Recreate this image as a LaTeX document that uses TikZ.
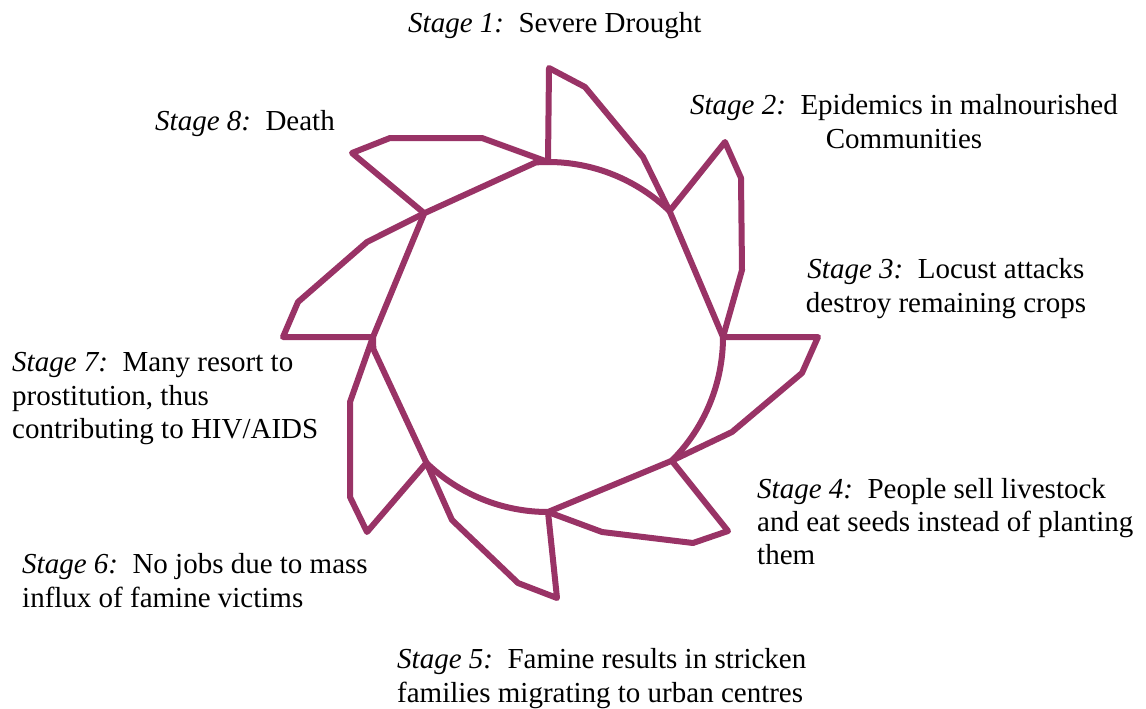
\documentclass[tikz,border=0pt]{standalone}
\usepackage{fontspec}
\setmainfont{Liberation Serif}
\definecolor{wine}{HTML}{993366}
\begin{document}
\begin{tikzpicture}[x=1pt,y=1pt,
  blade/.style={draw=wine, line width=6pt, line join=round, line cap=round},
  lbl/.style={inner sep=0pt, font=\fontsize{29}{33}\selectfont}]
\path[use as bounding box] (0,0) rectangle (1146,-709);
\coordinate (O) at (548,-337);
\coordinate (P1) at ([shift={(90:175)}]O);
\coordinate (P2) at ([shift={(46:175)}]O);
\coordinate (P3) at ([shift={(0:175)}]O);
\coordinate (P4) at ([shift={(-45:175)}]O);
\coordinate (P5) at ([shift={(-90:175)}]O);
\coordinate (P6) at ([shift={(-134:175)}]O);
\coordinate (Q7) at ([shift={(184:175)}]O);
\coordinate (P7) at ([shift={(180:175)}]O);
\coordinate (P8) at ([shift={(135:175)}]O);
\coordinate (Q1) at ([shift={(94:175)}]O);
% inner ring
\draw[blade] (P1) arc[start angle=90,end angle=46,radius=175] -- (P3)
  arc[start angle=0,end angle=-45,radius=175] -- (P5)
  arc[start angle=-90,end angle=-134,radius=175] -- (Q7)
  arc[start angle=184,end angle=180,radius=175] -- (P8) -- (Q1)
  arc[start angle=94,end angle=90,radius=175];
% blades
\draw[blade] (P1) -- (549,-68) -- (585,-87) -- (643,-157) -- (P2);
\draw[blade] (P2) -- (725,-142) -- (741,-178) -- (742,-270) -- (P3);
\draw[blade] (P3) -- (818,-337) -- (802,-373) -- (732,-432) -- (P4);
\draw[blade] (P4) -- (728,-531) -- (693,-543) -- (602,-532) -- (P5);
\draw[blade] (P5) -- (557,-598) -- (518,-583) -- (452,-520) -- (P6);
\draw[blade] (P6) -- (367,-532) -- (350,-497) -- (350,-402) -- (P7);
\draw[blade] (P7) -- (283,-337) -- (298,-302) -- (367,-242) -- (P8);
\draw[blade] (P8) -- (352,-153) -- (390,-138) -- (482,-138) -- (P1);
% labels
\node[lbl, anchor=base west] (s1) at (408,-33) {\textit{Stage 1:}\ \ Severe Drought};
\node[lbl, anchor=base] (s2a) at (904,-114) {\textit{Stage 2:}\ \ Epidemics in malnourished};
\node[lbl, anchor=base] (s2b) at (904,-148) {Communities};
\node[lbl, anchor=base] (s3a) at (946,-278) {\textit{Stage 3:}\ \ Locust attacks};
\node[lbl, anchor=base] (s3b) at (946,-312) {destroy remaining crops};
\node[lbl, anchor=base west] (s4a) at (757,-498) {\textit{Stage 4:}\ \ People sell livestock};
\node[lbl, anchor=base west] (s4b) at (757,-531) {and eat seeds instead of planting};
\node[lbl, anchor=base west] (s4c) at (757,-564) {them};
\node[lbl, anchor=base west] (s5a) at (397,-668) {\textit{Stage 5:}\ \ Famine results in stricken};
\node[lbl, anchor=base west] (s5b) at (397,-702) {families migrating to urban centres};
\node[lbl, anchor=base west] (s6a) at (22,-573) {\textit{Stage 6:}\ \ No jobs due to mass};
\node[lbl, anchor=base west] (s6b) at (22,-607) {influx of famine victims};
\node[lbl, anchor=base west] (s7a) at (12,-371) {\textit{Stage 7:}\ \ Many resort to};
\node[lbl, anchor=base west] (s7b) at (12,-405) {prostitution, thus};
\node[lbl, anchor=base west] (s7c) at (12,-438) {contributing to HIV/AIDS};
\node[lbl, anchor=base west] (s8) at (155,-130) {\textit{Stage 8:}\ \ Death};
\end{tikzpicture}
\end{document}
